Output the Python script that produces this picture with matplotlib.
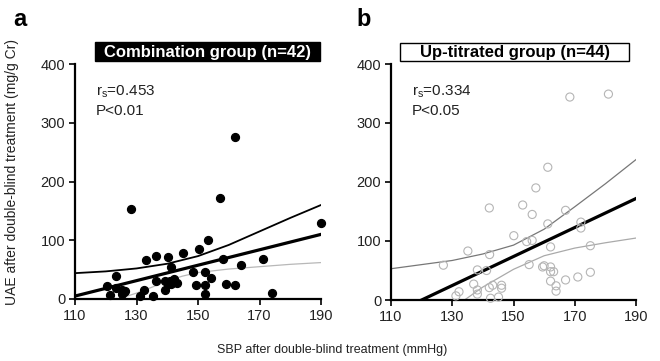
import matplotlib
matplotlib.use("Agg")
import matplotlib.pyplot as plt
from matplotlib.patches import Rectangle

plt.rcParams['font.family'] = ['Liberation Sans', 'DejaVu Sans']
plt.rcParams['mathtext.fontset'] = 'custom'
plt.rcParams['mathtext.rm'] = 'Liberation Sans'
plt.rcParams['mathtext.it'] = 'Liberation Sans'

# panel a: combination group
xa = [128.2, 162.1, 157.1, 190.0, 153.1, 150.3, 145.2, 140.3, 136.3, 133.2, 158.1,
      171.1, 164.1, 141.2, 148.3, 152.2, 123.3, 120.3, 123.3, 125.2, 126.2, 125.2,
      121.4, 132.3, 131.1, 135.3, 136.3, 139.3, 140.4, 139.3, 142.3, 141.2, 143.3,
      154.2, 149.2, 152.2, 152.2, 159.2, 162.1, 174.1, 141.0, 126.0]
ya = [154, 276, 172, 130, 101, 85, 78, 71, 73, 66, 68,
      68, 58, 55, 46, 46, 40, 22, 19, 16, 14, 9,
      6, 16, 5, 5, 30, 30, 25, 16, 34, 26, 27,
      35, 24, 24, 9, 25, 24, 10, 30, 12]
fit_a_x = [110, 190]
fit_a_y = [5, 110]
ci_a_x = [110, 120, 130, 140, 150, 160, 170, 180, 190]
ci_a_hi = [44, 47, 52, 60, 73, 92, 115, 138, 160]
ci_a_lo_x = [124, 130, 135, 140, 145, 150, 160, 170, 180, 190]
ci_a_lo = [0, 10, 20, 31, 39, 45, 51, 55, 59, 62]

# panel b: up-titrated group
xb = [181, 168.4, 161.2, 157.3, 142.1, 153, 156.1, 167, 161.2, 172, 172, 150.1,
      156.1, 162.1, 175.1, 135.1, 142.2, 127.1, 155.1, 160, 162.1, 162.1, 163.1,
      138.2, 141.2, 175.1, 171, 167, 162.1, 142.1, 138.2, 138.2, 132.2, 131.2,
      143.2, 146.1, 146.1, 145.1, 163.9, 163.9, 159.5, 154.3, 137.0, 142.5]
yb = [349, 344, 225, 190, 156, 161, 145, 152, 129, 132, 122, 109,
      101, 90, 92, 83, 77, 59, 60, 58, 56, 48, 48,
      51, 50, 47, 39, 34, 32, 21, 17, 10, 14, 7,
      25, 25, 20, 5, 24, 15, 56, 99, 27, 3]
fit_b_x = [120, 190]
fit_b_y = [0, 172]
ci_b_x = [110, 120, 130, 140, 150, 160, 170, 180, 190]
ci_b_hi = [53, 60, 67, 78, 93, 120, 158, 197, 238]
ci_b_lo_x = [134, 140, 150, 160, 170, 180, 190]
ci_b_lo = [0, 22, 52, 75, 88, 97, 105]

xticks = [110, 130, 150, 170, 190]
yticks = [0, 100, 200, 300, 400]

fig = plt.figure(figsize=(6.6, 3.61), dpi=100)
ax_a = fig.add_axes([75 / 660, 1 - 299 / 361, 246 / 660, 235 / 361])
ax_b = fig.add_axes([391 / 660, 1 - 300 / 361, 245 / 660, 236 / 361])


def style(ax):
    ax.set_xlim(110, 190)
    ax.set_ylim(0, 400)
    ax.set_xticks(xticks)
    ax.set_yticks(yticks)
    for s in ['top', 'right']:
        ax.spines[s].set_visible(False)
    for s in ['left', 'bottom']:
        ax.spines[s].set_linewidth(1.6)
    ax.tick_params(length=4, width=1.2, labelsize=10.5, labelcolor='#222222', pad=3)


style(ax_a)
ax_a.plot(ci_a_x, ci_a_hi, color='black', lw=1.3)
ax_a.plot(ci_a_lo_x, ci_a_lo, color='#b8b8b8', lw=0.9)
ax_a.plot(fit_a_x, fit_a_y, color='black', lw=2.3)
ax_a.scatter(xa, ya, s=32, color='black', zorder=3, clip_on=False)
ax_a.text(0.085, 0.915, r'r$_\mathrm{s}$=0.453', transform=ax_a.transAxes,
          fontsize=11, va='top', color='#222222')
ax_a.text(0.085, 0.83, 'P<0.01', transform=ax_a.transAxes,
          fontsize=11, va='top', color='#222222')

style(ax_b)
ax_b.plot(ci_b_x, ci_b_hi, color='#777777', lw=0.9)
ax_b.plot(ci_b_lo_x, ci_b_lo, color='#aaaaaa', lw=0.9)
ax_b.plot(fit_b_x, fit_b_y, color='black', lw=2.3)
ax_b.scatter(xb, yb, s=34, facecolors='none', edgecolors='#b5b5b5', linewidths=0.8,
             zorder=3, clip_on=False)
ax_b.text(0.085, 0.915, r'r$_\mathrm{s}$=0.334', transform=ax_b.transAxes,
          fontsize=11, va='top', color='#222222')
ax_b.text(0.085, 0.83, 'P<0.05', transform=ax_b.transAxes,
          fontsize=11, va='top', color='#222222')

# title boxes
fig.patches.append(Rectangle((95 / 660, 1 - 61 / 361), 225 / 660, 19 / 361,
                             transform=fig.transFigure, facecolor='black',
                             edgecolor='black', lw=1))
fig.text(208 / 660, 1 - 52 / 361, 'Combination group (n=42)', color='white',
         fontsize=12, fontweight='bold', ha='center', va='center')
fig.patches.append(Rectangle((400 / 660, 1 - 61 / 361), 229 / 660, 18 / 361,
                             transform=fig.transFigure, facecolor='white',
                             edgecolor='black', lw=1))
fig.text(515 / 660, 1 - 52 / 361, 'Up-titrated group (n=44)', color='black',
         fontsize=12, fontweight='bold', ha='center', va='center')

fig.text(13 / 660, 1 - 19 / 361, 'a', fontsize=17, fontweight='bold', va='center')
fig.text(356 / 660, 1 - 19 / 361, 'b', fontsize=17, fontweight='bold', va='center')

fig.text(12 / 660, 1 - 172 / 361, 'UAE after double-blind treatment (mg/g Cr)',
         rotation=90, ha='center', va='center', fontsize=10, color='#222222')
fig.text(332 / 660, 1 - 350 / 361, 'SBP after double-blind treatment (mmHg)',
         ha='center', va='center', fontsize=9, color='#222222')

fig.savefig('out.png', dpi=100)
